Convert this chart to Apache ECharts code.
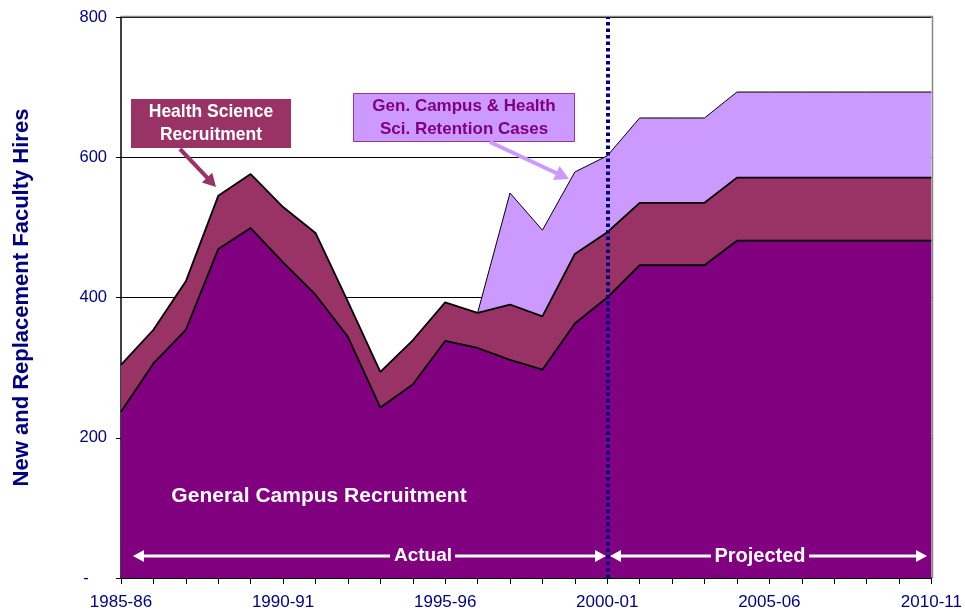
<!DOCTYPE html>
<html>
<head>
<meta charset="utf-8">
<script src="https://cdn.jsdelivr.net/npm/echarts@6/dist/echarts.min.js"></script>
<style>html,body{margin:0;padding:0;background:#fff;}#c{width:965px;height:611px;}</style>
</head>
<body>
<div id="c"></div>
<script>
var categories = ['1985-86','1986-87','1987-88','1988-89','1989-90','1990-91','1991-92','1992-93','1993-94','1994-95','1995-96','1996-97','1997-98','1998-99','1999-00','2000-01','2001-02','2002-03','2003-04','2004-05','2005-06','2006-07','2007-08','2008-09','2009-10','2010-11'];
var generalCampus = [237,306,354,469,499,450,404,344,243,276,338,328,311,297,363,400,446,446,446,481,481,481,481,481,481,481];
var healthScience = [67,48,69,76,77,79,88,50,51,63,55,50,79,76,99,93,89,89,89,90,90,90,90,90,90,90];
var retention = ['-','-','-','-','-','-','-','-','-','-','-',0,159,123,117,109,121,121,121,122,122,122,122,122,122,122];
var yTicks = {0:'-    ',200:'200',400:'400',600:'600',800:'800'};
var xLabelEvery = 5;

var navy = '#000080';
var font = '"Liberation Sans", Arial, sans-serif';
var chart = echarts.init(document.getElementById('c'), null, {renderer:'canvas'});

function arrowHead(x, y, angle, size, color) {
  var a = angle, s = size;
  var p1 = [x, y];
  var p2 = [x - s*Math.cos(a) + s*0.55*Math.sin(a), y - s*Math.sin(a) - s*0.55*Math.cos(a)];
  var p3 = [x - s*Math.cos(a) - s*0.55*Math.sin(a), y - s*Math.sin(a) + s*0.55*Math.cos(a)];
  return {type:'polygon', shape:{points:[p1,p2,p3]}, style:{fill:color}, z:100};
}
function arrow(x1,y1,x2,y2,w,color,size){
  var ang = Math.atan2(y2-y1, x2-x1);
  var ex = x2 - size*0.8*Math.cos(ang), ey = y2 - size*0.8*Math.sin(ang);
  return [
    {type:'line', shape:{x1:x1,y1:y1,x2:ex,y2:ey}, style:{stroke:color,lineWidth:w}, z:100},
    arrowHead(x2,y2,ang,size,color)
  ];
}

var graphics = [];
// Health Science box
graphics.push({type:'rect', shape:{x:131,y:99,width:160,height:49}, style:{fill:'#993366'}, z:100});
graphics.push({type:'text', x:211, y:123.5, style:{text:'Health Science\nRecruitment', fill:'#fff', font:'bold 17.5px '+font, align:'center', verticalAlign:'middle', lineHeight:23}, z:101});
graphics = graphics.concat(arrow(180,149,216,187,4,'#993366',13));
// Retention box
graphics.push({type:'rect', shape:{x:353.5,y:93.5,width:221,height:48}, style:{fill:'#CC99FF', stroke:'#993399', lineWidth:1}, z:100});
graphics.push({type:'text', x:464, y:118, style:{text:'Gen. Campus & Health\nSci. Retention Cases', fill:'#800080', font:'bold 17px '+font, align:'center', verticalAlign:'middle', lineHeight:23}, z:101});
graphics = graphics.concat(arrow(490,142,569,179,4,'#CC99FF',14));
// General campus label
graphics.push({type:'text', x:319, y:496, style:{text:'General Campus Recruitment', fill:'#fff', font:'bold 21px '+font, align:'center', verticalAlign:'middle'}, z:101});
// Actual arrow
graphics.push({type:'line', shape:{x1:140,y1:556,x2:390,y2:556}, style:{stroke:'#fff',lineWidth:3}, z:100});
graphics.push({type:'line', shape:{x1:455,y1:556,x2:598,y2:556}, style:{stroke:'#fff',lineWidth:3}, z:100});
graphics.push(arrowHead(133,556,Math.PI,11,'#fff'));
graphics.push(arrowHead(606,556,0,11,'#fff'));
graphics.push({type:'text', x:423, y:556, style:{text:'Actual', fill:'#fff', font:'bold 19px '+font, align:'center', verticalAlign:'middle'}, z:101});
// Projected arrow
graphics.push({type:'line', shape:{x1:617,y1:556,x2:711,y2:556}, style:{stroke:'#fff',lineWidth:3}, z:100});
graphics.push({type:'line', shape:{x1:809,y1:556,x2:920,y2:556}, style:{stroke:'#fff',lineWidth:3}, z:100});
graphics.push(arrowHead(610,556,Math.PI,11,'#fff'));
graphics.push(arrowHead(927,556,0,11,'#fff'));
graphics.push({type:'text', x:760, y:556, style:{text:'Projected', fill:'#fff', font:'bold 20px '+font, align:'center', verticalAlign:'middle'}, z:101});
// Plot border top/right (gray)
graphics.push({type:'polyline', shape:{points:[[121,16.5],[932.5,16.5],[932.5,578]]}, style:{stroke:'#888',lineWidth:1.5, fill:null}, z:5});

var option = {
  backgroundColor:'#fff',
  animation:false,
  grid:{left:121, right:33, top:17, bottom:33, containLabel:false},
  xAxis:{
    type:'category', data:categories, boundaryGap:false,
    axisLine:{show:true, lineStyle:{color:'#000', width:1.5}},
    axisTick:{show:true, interval:0, length:6, lineStyle:{color:'#000'}},
    axisLabel:{interval:xLabelEvery-1, color:navy, fontSize:17, fontFamily:font, margin:16, showMaxLabel:true},
    splitLine:{show:false}
  },
  yAxis:{
    type:'value', min:0, max:800, interval:200,
    name:'New and Replacement Faculty Hires', nameLocation:'middle', nameGap:88,
    nameTextStyle:{color:navy, fontSize:22, fontWeight:'bold', fontFamily:font},
    axisLine:{show:true, lineStyle:{color:'#000', width:1.5}},
    axisTick:{show:true, inside:false, length:5, lineStyle:{color:'#000'}},
    axisLabel:{color:navy, fontSize:16.5, fontFamily:font, margin:14, formatter:function(v){return yTicks[v]!==undefined?yTicks[v]:v;}},
    splitLine:{show:true, lineStyle:{color:'#000', width:1}}
  },
  series:[
    {name:'General Campus Recruitment', type:'line', stack:'t', data:generalCampus, showSymbol:false, symbol:'none',
     lineStyle:{color:'#000', width:1.8}, areaStyle:{color:'#800080', opacity:1}, itemStyle:{color:'#800080'}, z:3},
    {name:'Health Science Recruitment', type:'line', stack:'t', data:healthScience, showSymbol:false, symbol:'none',
     lineStyle:{color:'#000', width:1.8}, areaStyle:{color:'#993366', opacity:1}, itemStyle:{color:'#993366'}, z:2},
    {name:'Retention Cases', type:'line', stack:'t', data:retention, showSymbol:false, symbol:'none',
     lineStyle:{color:'#000', width:1}, areaStyle:{color:'#CC99FF', opacity:1}, itemStyle:{color:'#CC99FF'}, z:1,
     markLine:{silent:true, symbol:'none', label:{show:false}, lineStyle:{color:navy, width:4, type:[3.5,3], cap:'butt'},
       data:[{xAxis:'2000-01'}], z:10}}
  ],
  graphic:graphics
};
chart.setOption(option);
</script>
</body>
</html>
